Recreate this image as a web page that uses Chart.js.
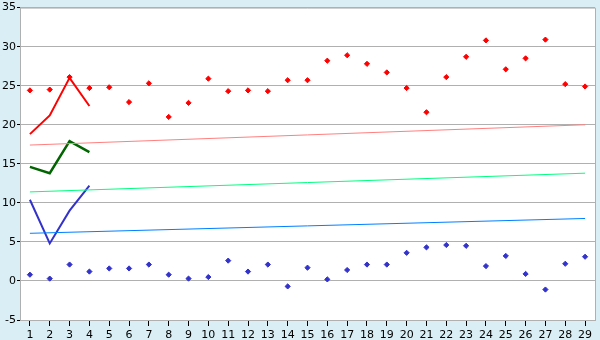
<!DOCTYPE html>
<html>
<head>
<meta charset="utf-8">
<script src="https://cdn.jsdelivr.net/npm/chart.js@4/dist/chart.umd.min.js"></script>
<style>
html,body{margin:0;padding:0;background:#D9EFF5;}
#wrap{width:600px;height:340px;position:relative;}
</style>
</head>
<body>
<div id="wrap"><canvas id="c" width="600" height="340"></canvas></div>
<script>
const categories = ['1','2','3','4','5','6','7','8','9','10','11','12','13','14','15','16','17','18','19','20','21','22','23','24','25','26','27','28','29'];
const yTicks = [-5, 0, 5, 10, 15, 20, 25, 30, 35];

const redPoints = [24.4, 24.5, 26.1, 24.7, 24.8, 22.9, 25.3, 21.0, 22.8, 25.9, 24.3, 24.4, 24.3, 25.7, 25.7, 28.2, 28.9, 27.8, 26.7, 24.7, 21.6, 26.1, 28.7, 30.8, 27.1, 28.5, 30.9, 25.2, 24.9];
const bluePoints = [0.8, 0.3, 2.1, 1.2, 1.6, 1.6, 2.1, 0.8, 0.3, 0.5, 2.6, 1.2, 2.1, -0.7, 1.7, 0.2, 1.4, 2.1, 2.1, 3.6, 4.3, 4.6, 4.5, 1.9, 3.2, 0.9, -1.1, 2.2, 3.1];

const redLine = [18.8, 21.2, 26.0, 22.4];
const greenLine = [14.6, 13.8, 17.9, 16.5];
const blueLine = [10.4, 4.8, 9.0, 12.2];

// trend lines: value at first and last category
const pinkTrend = [17.4, 20.0];
const greenTrend = [11.4, 13.8];
const azureTrend = [6.1, 8.0];

function endpoints(pair) {
  const arr = categories.map(() => null);
  arr[0] = pair[0];
  arr[arr.length - 1] = pair[1];
  return arr;
}

const plotBg = {
  id: 'plotBg',
  beforeDraw(chart) {
    const a = chart.chartArea, ctx = chart.ctx;
    ctx.save();
    ctx.fillStyle = '#ffffff';
    ctx.fillRect(a.left, a.top, a.right - a.left, a.bottom - a.top);
    ctx.restore();
  },
  afterDatasetsDraw(chart) {
    const a = chart.chartArea, ctx = chart.ctx;
    ctx.save();
    ctx.strokeStyle = '#B0B0B0';
    ctx.lineWidth = 1;
    ctx.beginPath();
    ctx.moveTo(a.left, a.top + 0.5);
    ctx.lineTo(a.right + 0.5, a.top + 0.5);
    ctx.lineTo(a.right + 0.5, a.bottom);
    ctx.stroke();
    ctx.restore();
  }
};

const lineDs = (data, color, width) => ({
  type: 'line', data, borderColor: color, backgroundColor: color,
  borderWidth: width, pointRadius: 0, fill: false, tension: 0, spanGaps: true
});
const ptDs = (data, color) => ({
  type: 'line', data, showLine: false, borderColor: color, backgroundColor: color,
  pointStyle: 'rectRot', pointRadius: 2.6, pointBorderWidth: 1
});

new Chart(document.getElementById('c'), {
  type: 'line',
  data: {
    labels: categories,
    datasets: [
      lineDs(endpoints(pinkTrend), '#FF8080', 1),
      lineDs(endpoints(greenTrend), '#00FF80', 1),
      lineDs(endpoints(azureTrend), '#0080FF', 1),
      lineDs(redLine, '#FF0000', 2),
      lineDs(greenLine, '#006400', 2.5),
      lineDs(blueLine, '#3333CC', 2),
      ptDs(redPoints, '#FF0000'),
      ptDs(bluePoints, '#3333CC')
    ]
  },
  options: {
    responsive: false,
    animation: false,
    events: [],
    layout: { padding: { top: 5, right: 5, left: 0, bottom: 0 } },
    plugins: { legend: { display: false }, tooltip: { enabled: false } },
    scales: {
      x: {
        offset: true,
        grid: { drawOnChartArea: false, drawTicks: true, tickLength: 6, tickColor: '#000000', offset: false },
        border: { color: '#B0B0B0' },
        ticks: { color: '#000000', font: { family: 'DejaVu Sans', size: 11 }, padding: 3, maxRotation: 0, autoSkip: false },
        afterFit(s) { s.height = 20; }
      },
      y: {
        min: -5, max: 35,
        afterBuildTicks(s) { s.ticks = yTicks.map(v => ({ value: v })); },
        grid: { color: '#B0B0B0', tickColor: '#000000', tickLength: 3, drawTicks: true },
        border: { color: '#B0B0B0' },
        ticks: { color: '#000000', font: { family: 'DejaVu Sans', size: 11 }, padding: 1 },
        afterFit(s) { s.width = 20; }
      }
    }
  },
  plugins: [plotBg]
});
</script>
</body>
</html>
